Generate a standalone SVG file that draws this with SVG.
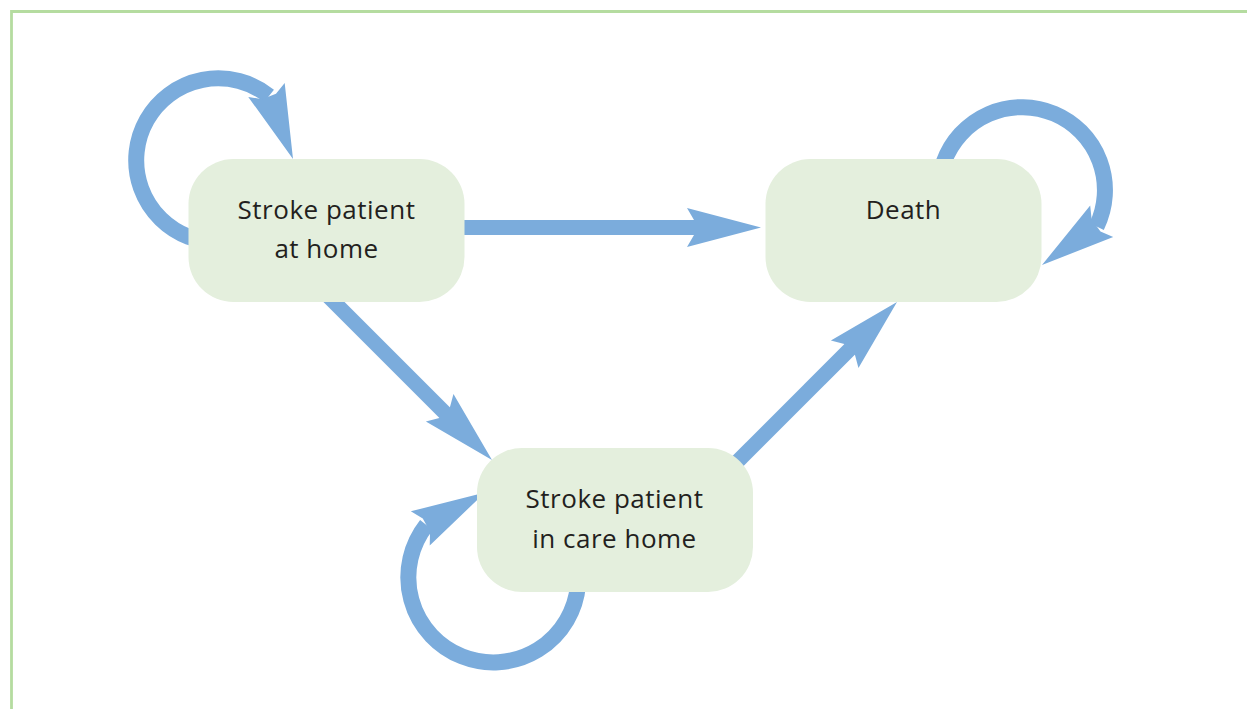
<svg xmlns="http://www.w3.org/2000/svg" xmlns:xlink="http://www.w3.org/1999/xlink" width="1247" height="709" viewBox="0 0 1247 709">
<style>
.box{fill:#e4efdd;}
.lbl{font-family:"Open Sans","Noto Sans","Liberation Sans",sans-serif;font-size:26px;letter-spacing:0.5px;fill:#231f20;text-anchor:middle;}
.shaft{stroke:#7bacdc;stroke-width:15;fill:none;}
.loop{stroke:#7bacdc;stroke-width:16;fill:none;}
.head{fill:#7bacdc;}
</style>
<defs>
<polygon id="head" class="head" points="0,0 -74,-19.5 -67,-7.5 -67,7.5 -74,19.5"/>
</defs>
<rect x="0" y="0" width="1247" height="709" fill="#ffffff"/>
<path d="M11.5,709 V11.5 H1247" fill="none" stroke="#b5dca0" stroke-width="2.8"/>
<g id="connectors">
<line class="shaft" x1="460" y1="227.5" x2="697" y2="227.5"/>
<use xlink:href="#head" transform="translate(761,227.5)"/>
<line class="shaft" x1="328" y1="296" x2="447" y2="415"/>
<use xlink:href="#head" transform="translate(492,460) rotate(45)"/>
<line class="shaft" x1="733" y1="466" x2="850" y2="349"/>
<use xlink:href="#head" transform="translate(897,302) rotate(-45)"/>
<path class="loop" d="M199,240 L189,237 A82,82 0 1 1 269,96"/>
<use xlink:href="#head" transform="translate(293,159) rotate(69)"/>
<path class="loop" d="M943,175 L944,161.6 A83,83 0 1 1 1096.6,226.4"/>
<use xlink:href="#head" transform="translate(1042,265) rotate(143.8)"/>
<path class="loop" d="M578,585 A85,85 0 1 1 426.4,525"/>
<use xlink:href="#head" transform="translate(485,492.5) rotate(-29)"/>
</g>
<g id="node-home">
<rect class="box" x="188.5" y="159" width="276" height="143" rx="45"/>
<text class="lbl" x="326.5" y="219">Stroke patient</text>
<text class="lbl" x="326.5" y="258">at home</text>
</g>
<g id="node-death">
<rect class="box" x="765.5" y="159" width="276" height="143" rx="45"/>
<text class="lbl" x="903.5" y="219">Death</text>
</g>
<g id="node-care">
<rect class="box" x="477" y="448" width="276" height="144" rx="45"/>
<text class="lbl" x="614.5" y="508">Stroke patient</text>
<text class="lbl" x="614.5" y="548">in care home</text>
</g>
</svg>
